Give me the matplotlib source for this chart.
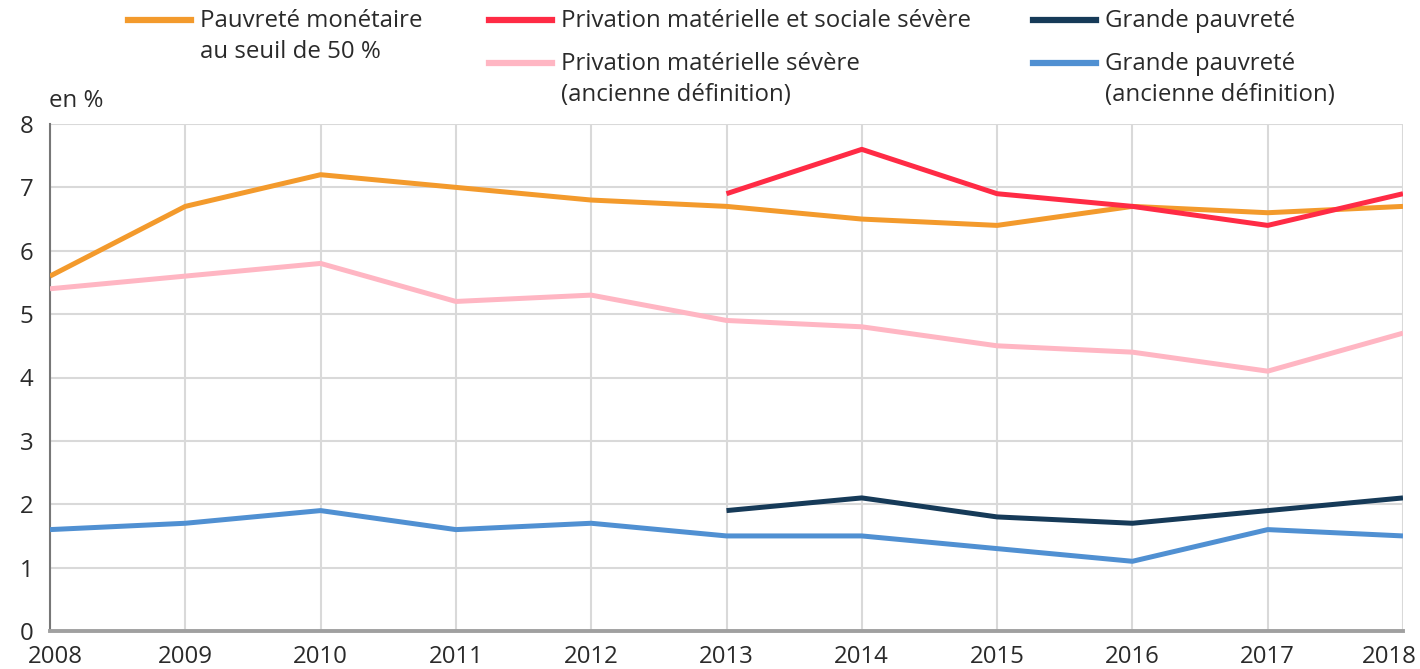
import matplotlib
matplotlib.use("Agg")
import matplotlib.pyplot as plt
from matplotlib.lines import Line2D
from matplotlib.transforms import ScaledTranslation

plt.rcParams['font.family'] = ['Open Sans', 'DejaVu Sans']

years = [2008, 2009, 2010, 2011, 2012, 2013, 2014, 2015, 2016, 2017, 2018]
years_new = [2013, 2014, 2015, 2016, 2017, 2018]
pauvrete_monetaire = [5.6, 6.7, 7.2, 7.0, 6.8, 6.7, 6.5, 6.4, 6.7, 6.6, 6.7]
privation_ms_severe = [6.9, 7.6, 6.9, 6.7, 6.4, 6.9]
grande_pauvrete = [1.9, 2.1, 1.8, 1.7, 1.9, 2.1]
privation_m_severe_anc = [5.4, 5.6, 5.8, 5.2, 5.3, 4.9, 4.8, 4.5, 4.4, 4.1, 4.7]
grande_pauvrete_anc = [1.6, 1.7, 1.9, 1.6, 1.7, 1.5, 1.5, 1.3, 1.1, 1.6, 1.5]

labels = [["Pauvreté monétaire", "au seuil de 50 %"],
          ["Privation matérielle et sociale sévère"],
          ["Grande pauvreté"],
          ["Privation matérielle sévère", "(ancienne définition)"],
          ["Grande pauvreté", "(ancienne définition)"]]
colors = ["#F39A2C", "#FF2B45", "#163A58", "#FFB6C3", "#5090D2"]

W, H = 1420, 669
FS = 17.3
TXT = "#2A2A2A"
fig = plt.figure(figsize=(W / 100, H / 100), dpi=100)
ax = fig.add_axes([50 / W, 1 - 631 / H, (1403 - 50) / W, (631 - 124) / H])

lw = 3.6
ax.plot(years, privation_m_severe_anc, color=colors[3], lw=lw, solid_capstyle='butt', zorder=3)
ax.plot(years, grande_pauvrete_anc, color=colors[4], lw=lw, solid_capstyle='butt', zorder=3)
ax.plot(years, pauvrete_monetaire, color=colors[0], lw=lw, solid_capstyle='butt', zorder=4)
ax.plot(years_new, privation_ms_severe, color=colors[1], lw=lw, solid_capstyle='butt', zorder=5)
ax.plot(years_new, grande_pauvrete, color=colors[2], lw=lw, solid_capstyle='butt', zorder=5)

ax.set_xlim(2008, 2018)
ax.set_ylim(0, 8)
ax.set_xticks(years)
ax.set_xticklabels([str(y) for y in years])
ax.set_yticks(range(0, 9))
ax.grid(True, color="#D9D9D9", lw=1.5, zorder=0)
ax.set_axisbelow(True)
for s in ['top', 'right']:
    ax.spines[s].set_visible(False)
ax.spines['left'].set_color("#777777")
ax.spines['left'].set_linewidth(1.5)
ax.spines['bottom'].set_color("#A0A0A0")
ax.spines['bottom'].set_linewidth(2.8)
ax.tick_params(axis='both', length=0, labelsize=FS, colors=TXT)
ax.tick_params(axis='y', pad=12)
ax.tick_params(axis='x', pad=10)

xt = ax.get_xticklabels()
xt[0].set_transform(xt[0].get_transform() + ScaledTranslation(5 / 100, 0, fig.dpi_scale_trans))
xt[-1].set_transform(xt[-1].get_transform() + ScaledTranslation(-14 / 100, 0, fig.dpi_scale_trans))

fig.text(49 / W, 1 - 101 / H, "en %", fontsize=FS, color=TXT, va='center', ha='left')

# legend
leg = [(128, 20, 0), (489, 20, 1), (1033, 20, 2), (489, 63, 3), (1033, 63, 4)]
for x0, y0, i in leg:
    fig.add_artist(Line2D([x0 / W, (x0 + 63) / W], [1 - y0 / H, 1 - y0 / H],
                          color=colors[i], lw=4.5, transform=fig.transFigure))
    for k, line in enumerate(labels[i]):
        fig.text((x0 + 72) / W, 1 - (y0 + 1 + 31 * k) / H, line, fontsize=FS,
                 color=TXT, va='center', ha='left')

fig.savefig("out.png", dpi=100)
